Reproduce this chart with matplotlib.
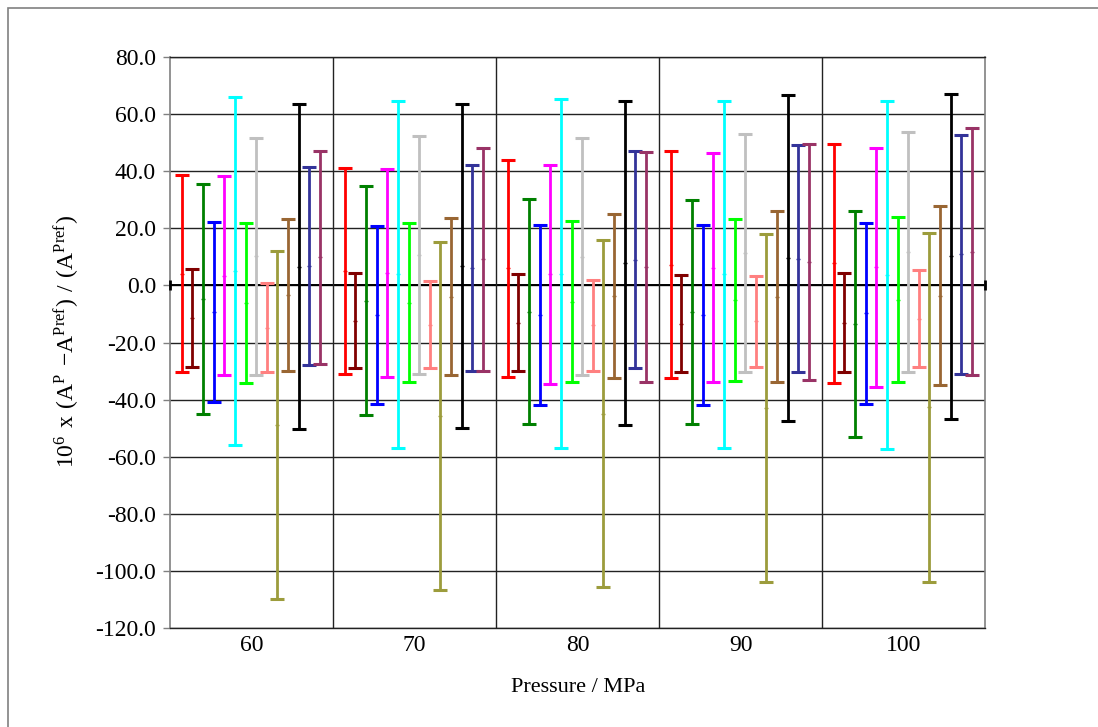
import matplotlib
matplotlib.use("Agg")
from matplotlib import pyplot as plt
from matplotlib.patches import Rectangle
import numpy as np

plt.rcParams['font.family'] = ['Liberation Serif', 'DejaVu Serif']
plt.rcParams['mathtext.fontset'] = 'custom'
plt.rcParams['mathtext.rm'] = 'Liberation Serif'
plt.rcParams['axes.unicode_minus'] = False

pressures = ['60', '70', '80', '90', '100']

colors = ['#FF0000', '#800000', '#008000', '#0000FF', '#FF00FF', '#00FFFF', '#00FF00',
          '#C0C0C0', '#FF8080', '#9C9C3C', '#996633', '#000000', '#333399', '#993366']

# upper / lower ends of each range, one row per series, one column per pressure
highs = [
    [38.5, 41.0, 44.0, 47.0, 49.5],
    [5.8, 4.5, 4.0, 3.5, 4.5],
    [35.5, 34.9, 30.2, 29.8, 26.2],
    [22.3, 20.9, 21.2, 21.2, 21.8],
    [38.3, 40.6, 42.1, 46.2, 48.2],
    [66.0, 64.6, 65.2, 64.6, 64.6],
    [22.0, 22.0, 22.4, 23.4, 23.9],
    [51.7, 52.2, 51.7, 53.2, 53.7],
    [0.9, 1.4, 2.0, 3.4, 5.3],
    [12.0, 15.1, 16.0, 17.9, 18.4],
    [23.4, 23.5, 24.9, 25.9, 27.9],
    [63.6, 63.6, 64.6, 66.7, 67.2],
    [41.6, 42.2, 47.2, 49.2, 52.7],
    [47.2, 48.2, 46.8, 49.6, 55.2],
]
lows = [
    [-30.5, -30.9, -32.0, -32.6, -34.1],
    [-28.5, -29.1, -30.0, -30.5, -30.5],
    [-44.9, -45.5, -48.5, -48.5, -53.0],
    [-41.0, -41.4, -42.0, -42.0, -41.4],
    [-31.4, -32.0, -34.4, -34.0, -35.5],
    [-55.9, -56.9, -56.9, -56.9, -57.4],
    [-34.1, -34.0, -34.0, -33.5, -34.0],
    [-31.4, -30.9, -31.5, -30.5, -30.5],
    [-30.5, -29.1, -30.0, -28.5, -28.5],
    [-109.7, -106.8, -105.8, -103.8, -103.9],
    [-30.0, -31.5, -32.5, -34.0, -35.0],
    [-50.4, -49.9, -49.0, -47.4, -46.9],
    [-28.0, -30.0, -29.1, -30.5, -30.9],
    [-27.6, -30.0, -34.0, -33.0, -31.5],
]

W, H = 1098, 727
fig = plt.figure(figsize=(W / 100, H / 100), dpi=100)
ax = fig.add_axes([170 / W, 1 - 628 / H, (985 - 170) / W, (628 - 57) / H])

# outer chart frame
fig.patches.append(Rectangle((8 / W, -0.05), 1.0, 1 - 8 / H + 0.05, transform=fig.transFigure,
                             fill=False, edgecolor='#808080', linewidth=1.2))

cat = np.arange(1, len(pressures) + 1)
for k, c in enumerate(colors):
    x = cat - 0.5 + 0.072 + k * 0.0652
    hi = np.array(highs[k])
    lo = np.array(lows[k])
    mid = (hi + lo) / 2
    ax.errorbar(x, mid, yerr=[mid - lo, hi - mid], fmt='none', ecolor=c,
                elinewidth=2.0, capsize=5, capthick=2.2, zorder=3)
    ax.plot(x, mid, '_', color=c, markersize=3, markeredgewidth=1.0, zorder=4)

ax.set_xlim(0.5, len(pressures) + 0.5)
ax.set_ylim(-120, 80)
ax.set_yticks(np.arange(-120, 81, 20))
ax.yaxis.set_major_formatter(matplotlib.ticker.FormatStrFormatter('%.1f'))
ax.set_xticks(cat)
ax.set_xticklabels(pressures)
ax.tick_params(axis='x', length=0, pad=5, labelsize=17)
ax.tick_params(axis='y', length=5, width=1, color='#808080', direction='out', pad=5, labelsize=17)

for y in np.arange(-120, 81, 20):
    ax.axhline(y, color='#222222', linewidth=1.0, zorder=1)
ax.axhline(0, color='black', linewidth=1.4, zorder=1)
for xb in cat[:-1] + 0.5:
    ax.axvline(xb, color='#222222', linewidth=1.0, zorder=1)
ax.plot([0.5, len(pressures) + 0.5], [0, 0], '|', color='black',
        markersize=7, markeredgewidth=2, clip_on=False, zorder=4)

for side in ['left', 'right']:
    ax.spines[side].set_color('#808080')
    ax.spines[side].set_linewidth(1.2)
for side in ['top', 'bottom']:
    ax.spines[side].set_color('#222222')
    ax.spines[side].set_linewidth(1.0)

fig.text(67 / W, 1 - 342 / H,
         r'$\mathregular{10^6\ x\ (A^P\ \mathregular{-}A^{Pref})\ /\ (A^{Pref})}$',
         rotation=90, ha='center', va='center', fontsize=17)
fig.text(578 / W, 1 - 688 / H, 'Pressure / MPa', ha='center', va='center', fontsize=16)

fig.savefig('out.png', dpi=100)
